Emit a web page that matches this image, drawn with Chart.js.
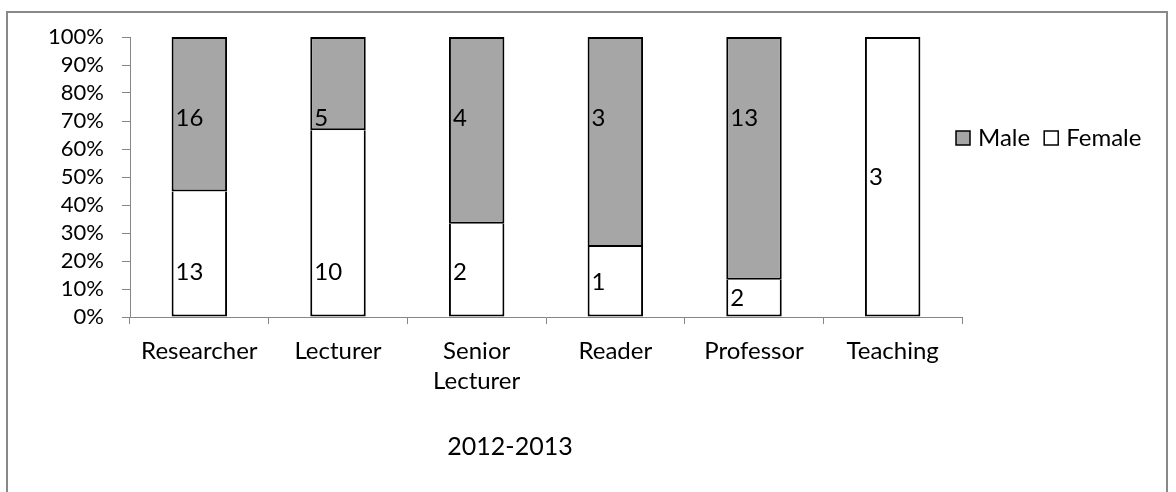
<!DOCTYPE html>
<html>
<head>
<meta charset="utf-8">
<script src="https://cdn.jsdelivr.net/npm/chart.js@4.4.1/dist/chart.umd.min.js"></script>
<style>
    html, body { margin: 0; padding: 0; background: #fff; }
    #wrap { width: 1176px; height: 492px; position: relative; }
</style>
</head>
<body>
<div id="wrap"><canvas id="grafico"></canvas></div>
<script>
// categorias y cuentas
const categorias = ['Researcher', 'Lecturer', ['Senior', 'Lecturer'], 'Reader', 'Professor', 'Teaching'];
const hombres = [16, 5, 4, 3, 13, 0];
const mujeres = [13, 10, 2, 1, 2, 3];
const ticksY = [0, 10, 20, 30, 40, 50, 60, 70, 80, 90, 100];
const tituloEje = '2012-2013';

const FUENTE = 'Lato';
const GRIS_EJE = '#868686';

// porcentajes para el 100% apilado
const totales = hombres.map((h, i) => h + mujeres[i]);
const pctMujeres = mujeres.map((m, i) => m / totales[i] * 100);
const pctHombres = hombres.map((h, i) => h / totales[i] * 100);

/*
=====================================
PLUGINS
=====================================
*/

const marco = {
    id: 'marco',
    beforeDraw(chart) {
        const ctx = chart.ctx;
        ctx.save();
        ctx.fillStyle = '#fff';
        ctx.fillRect(0, 0, chart.width, chart.height);
        ctx.strokeStyle = '#898989';
        ctx.lineWidth = 2;
        ctx.strokeRect(7, 12, 1160, 500);
        ctx.restore();
    }
};

const etiquetas = {
    id: 'etiquetas',
    afterDatasetsDraw(chart) {
        const ctx = chart.ctx;
        const y = chart.scales.y;
        ctx.save();
        ctx.font = '24px ' + FUENTE;
        ctx.fillStyle = '#000';
        ctx.textAlign = 'left';
        ctx.textBaseline = 'middle';

        chart.data.datasets.forEach((ds, d) => {
            const meta = chart.getDatasetMeta(d);
            meta.data.forEach((barra, i) => {
                const cuenta = ds.cuentas[i];
                if (!cuenta) return;
                let nivel;
                if (ds.label === 'Male') {
                    nivel = 71;
                } else {
                    nivel = hombres[i] === 0 ? 50 : Math.min(16, pctMujeres[i] / 2);
                }
                const x = barra.x - barra.width / 2 + 4;
                ctx.fillText(String(cuenta), x, y.getPixelForValue(nivel));
            });
        });
        ctx.restore();
    }
};

const leyendaYTitulo = {
    id: 'leyendaYTitulo',
    afterDraw(chart) {
        const ctx = chart.ctx;
        ctx.save();
        ctx.font = '24px ' + FUENTE;
        ctx.fillStyle = '#000';
        ctx.textBaseline = 'middle';
        ctx.textAlign = 'left';

        const yLey = 138;
        let x = 956;
        chart.data.datasets.slice().reverse().forEach(ds => {
            ctx.fillStyle = ds.backgroundColor;
            ctx.fillRect(x, yLey - 7, 14, 14);
            ctx.strokeStyle = '#000';
            ctx.lineWidth = 1.5;
            ctx.strokeRect(x, yLey - 7, 14, 14);
            ctx.fillStyle = '#000';
            ctx.fillText(ds.label, x + 22, yLey);
            x += 22 + ctx.measureText(ds.label).width + 14;
        });

        ctx.font = '25px ' + FUENTE;
        ctx.textAlign = 'center';
        ctx.fillText(tituloEje, 510, 447);
        ctx.restore();
    }
};

/*
=====================================
GRÁFICO
=====================================
*/

new Chart(document.getElementById('grafico'), {
    type: 'bar',
    data: {
        labels: categorias,
        datasets: [
            {
                label: 'Female',
                data: pctMujeres,
                cuentas: mujeres,
                backgroundColor: '#ffffff',
                borderColor: '#000000',
                borderWidth: 2,
                // el borde superior lo pone la barra gris, salvo si no hay
                borderSkipped: c => hombres[c.dataIndex] === 0 ? false : 'top'
            },
            {
                label: 'Male',
                data: pctHombres,
                cuentas: hombres,
                backgroundColor: '#a6a6a6',
                borderColor: '#000000',
                borderWidth: 2,
                borderSkipped: false
            }
        ]
    },
    options: {
        responsive: true,
        maintainAspectRatio: false,
        animation: false,
        layout: {
            padding: { left: 8, top: 37, right: 214, bottom: 0 }
        },
        datasets: {
            bar: { categoryPercentage: 1, barPercentage: 0.4 }
        },
        plugins: {
            legend: { display: false },
            title: { display: false },
            tooltip: { enabled: false }
        },
        scales: {
            x: {
                stacked: true,
                offset: true,
                afterFit(s) { s.height = 175; },
                border: { color: GRIS_EJE, width: 1 },
                grid: {
                    offset: true,
                    drawOnChartArea: false,
                    color: GRIS_EJE,
                    tickLength: 7
                },
                ticks: {
                    color: '#000',
                    padding: 12,
                    maxRotation: 0,
                    autoSkip: false,
                    font: { family: FUENTE, size: 24, lineHeight: 1.25 }
                }
            },
            y: {
                stacked: true,
                min: 0,
                max: 100,
                afterFit(s) { s.width = 122; },
                afterBuildTicks(s) { s.ticks = ticksY.map(v => ({ value: v })); },
                border: { color: GRIS_EJE, width: 1 },
                grid: {
                    drawOnChartArea: false,
                    color: GRIS_EJE,
                    tickLength: 8
                },
                ticks: {
                    color: '#000',
                    padding: 18,
                    autoSkip: false,
                    callback: v => v + '%',
                    font: { family: FUENTE, size: 22 }
                }
            }
        }
    },
    plugins: [marco, etiquetas, leyendaYTitulo]
});
</script>
</body>
</html>
